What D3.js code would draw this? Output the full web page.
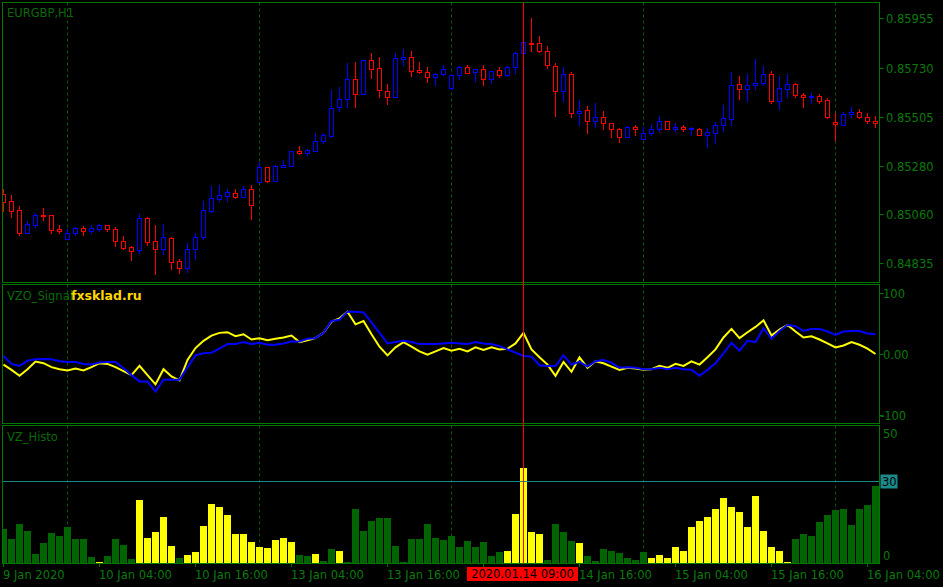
<!DOCTYPE html>
<html><head><meta charset="utf-8">
<script src="https://cdn.jsdelivr.net/npm/d3@7"></script>
<style>html,body{margin:0;padding:0;background:#000;overflow:hidden}</style>
</head><body>
<svg id="c" width="943" height="587"></svg>
<script>
// ---- DATA (EURGBP H1, 110 bars) ----
const open = [0.85152,0.85118,0.85079,0.84975,0.85012,0.85056,0.85054,0.84992,0.84945,0.84972,
0.84997,0.84984,0.84994,0.85009,0.84990,0.84936,0.84908,0.84894,0.85041,0.84936,
0.84902,0.84949,0.84844,0.84815,0.84899,0.84957,0.85076,0.85131,0.85144,0.85158,
0.85140,0.85173,0.85208,0.85274,0.85213,0.85277,0.85282,0.85347,0.85341,0.85350,
0.85393,0.85417,0.85548,0.85585,0.85676,0.85611,0.85763,0.85726,0.85621,0.85597,
0.85771,0.85777,0.85717,0.85708,0.85685,0.85699,0.85635,0.85694,0.85731,0.85710,
0.85722,0.85676,0.85719,0.85694,0.85734,0.85798,0.85842,0.85841,0.85804,0.85736,
0.85621,0.85699,0.85521,0.85534,0.85484,0.85502,0.85475,0.85448,0.85414,0.85457,
0.85402,0.85429,0.85448,0.85484,0.85451,0.85457,0.85448,0.85448,0.85423,0.85432,
0.85466,0.85493,0.85655,0.85630,0.85649,0.85658,0.85701,0.85579,0.85630,0.85655,
0.85603,0.85594,0.85600,0.85582,0.85481,0.85469,0.85518,0.85527,0.85502,0.85487];
const high = [0.85175,0.85147,0.85097,0.85027,0.85064,0.85088,0.85054,0.85009,0.84994,0.85003,
0.85006,0.85009,0.85015,0.85012,0.85000,0.84960,0.84914,0.85061,0.85048,0.85009,
0.85015,0.84957,0.84853,0.84926,0.84972,0.85118,0.85189,0.85192,0.85173,0.85173,
0.85189,0.85192,0.85298,0.85274,0.85283,0.85307,0.85350,0.85371,0.85359,0.85429,
0.85429,0.85627,0.85640,0.85749,0.85755,0.85763,0.85795,0.85777,0.85655,0.85795,
0.85813,0.85804,0.85755,0.85731,0.85704,0.85740,0.85694,0.85737,0.85740,0.85722,
0.85740,0.85716,0.85731,0.85737,0.85801,0.85845,0.85957,0.85874,0.85829,0.85752,
0.85731,0.85710,0.85582,0.85554,0.85566,0.85530,0.85475,0.85454,0.85463,0.85469,
0.85457,0.85466,0.85509,0.85487,0.85475,0.85466,0.85457,0.85454,0.85454,0.85481,
0.85557,0.85710,0.85691,0.85701,0.85768,0.85737,0.85713,0.85691,0.85701,0.85658,
0.85612,0.85612,0.85609,0.85591,0.85521,0.85527,0.85548,0.85539,0.85521,0.85509];
const low = [0.85076,0.85048,0.84965,0.84975,0.85000,0.85033,0.84975,0.84975,0.84945,0.84963,
0.84965,0.84975,0.84981,0.84984,0.84914,0.84902,0.84850,0.84884,0.84919,0.84786,
0.84878,0.84808,0.84792,0.84795,0.84853,0.84948,0.85070,0.85118,0.85118,0.85134,
0.85137,0.85039,0.85207,0.85207,0.85210,0.85277,0.85282,0.85335,0.85332,0.85350,
0.85387,0.85411,0.85530,0.85551,0.85551,0.85611,0.85682,0.85597,0.85563,0.85597,
0.85740,0.85691,0.85704,0.85664,0.85649,0.85698,0.85634,0.85679,0.85704,0.85670,
0.85652,0.85658,0.85685,0.85691,0.85707,0.85798,0.85807,0.85801,0.85728,0.85509,
0.85579,0.85502,0.85466,0.85432,0.85457,0.85451,0.85414,0.85390,0.85414,0.85423,
0.85402,0.85420,0.85438,0.85448,0.85442,0.85442,0.85423,0.85420,0.85365,0.85387,
0.85442,0.85469,0.85585,0.85579,0.85634,0.85649,0.85570,0.85542,0.85597,0.85594,
0.85551,0.85570,0.85570,0.85499,0.85399,0.85466,0.85506,0.85499,0.85478,0.85460];
const close = [0.85117,0.85076,0.84975,0.85013,0.85054,0.85051,0.84989,0.84981,0.84972,0.84995,
0.84984,0.84997,0.85009,0.84990,0.84936,0.84904,0.84893,0.85041,0.84934,0.84902,
0.84954,0.84843,0.84815,0.84899,0.84957,0.85077,0.85132,0.85146,0.85160,0.85140,
0.85173,0.85103,0.85274,0.85213,0.85280,0.85283,0.85347,0.85341,0.85353,0.85393,
0.85420,0.85544,0.85585,0.85676,0.85611,0.85763,0.85722,0.85626,0.85597,0.85772,
0.85777,0.85716,0.85708,0.85685,0.85699,0.85722,0.85694,0.85731,0.85707,0.85722,
0.85676,0.85716,0.85694,0.85734,0.85795,0.85845,0.85839,0.85804,0.85740,0.85621,
0.85699,0.85521,0.85530,0.85484,0.85502,0.85475,0.85448,0.85414,0.85460,0.85448,
0.85429,0.85448,0.85484,0.85451,0.85457,0.85448,0.85454,0.85423,0.85435,0.85466,
0.85498,0.85649,0.85630,0.85649,0.85658,0.85701,0.85579,0.85635,0.85655,0.85603,
0.85594,0.85600,0.85579,0.85506,0.85472,0.85518,0.85527,0.85502,0.85484,0.85475];

const vzo = [-17.4,-26.1,-35.9,-25.0,-12.5,-15.2,-21.7,-25.0,-27.2,-23.9,
-27.2,-21.7,-15.2,-16.3,-21.7,-28.3,-34.8,-19.6,-34.8,-50.0,
-25.0,-37.0,-43.5,-9.8,9.8,21.7,30.4,34.8,35.9,29.3,
32.6,23.9,26.1,22.8,25.0,27.2,30.4,19.6,22.8,26.1,
34.8,53.3,58.7,69.6,48.9,54.3,32.6,12.0,-2.2,10.9,
19.6,12.0,4.3,-1.1,4.3,9.8,5.4,8.7,4.3,10.9,
6.5,10.9,7.6,8.7,17.4,34.8,7.6,-5.4,-17.4,-35.9,
-13.0,-29.3,-5.4,-22.8,-12.0,-15.2,-20.7,-26.1,-22.8,-23.9,
-26.1,-25.0,-19.6,-22.8,-16.3,-19.6,-12.0,-17.4,-5.4,7.6,
27.2,41.3,26.1,35.9,44.6,55.4,30.4,40.2,47.8,37.0,
27.2,29.3,23.9,17.4,10.9,14.1,19.6,15.2,8.7,0.0];
const signal = [-3.3,-16.3,-19.6,-10.9,-8.7,-8.2,-8.7,-12.0,-13.0,-13.0,
-16.3,-17.4,-14.1,-13.0,-13.0,-23.4,-34.8,-45.1,-45.1,-62.0,
-42.4,-42.4,-42.4,-21.7,-2.2,1.1,2.2,8.7,16.3,16.3,
19.6,16.3,18.5,15.2,15.2,17.4,20.7,20.7,25.0,26.1,
34.8,54.3,56.5,69.6,69.6,68.5,52.2,34.8,17.4,19.6,
21.7,19.6,16.3,16.3,16.3,17.4,18.5,17.4,16.3,19.6,
17.4,16.3,13.0,7.6,2.2,-3.3,-4.3,-18.5,-19.6,-19.6,
-2.2,-17.4,-13.0,-20.7,-12.0,-9.8,-14.1,-22.8,-21.7,-22.8,
-25.0,-25.0,-22.8,-25.0,-22.8,-25.0,-26.1,-35.9,-26.1,-15.2,
1.1,18.5,5.4,21.7,19.6,42.4,25.0,38.0,47.8,45.7,
38.0,41.3,41.3,37.0,31.5,37.0,38.0,38.0,33.7,32.6];

const histo = [12.7,9.0,14.6,12.0,3.5,7.5,11.2,10.1,13.5,9.0,
9.0,2.3,0.5,2.7,9.0,6.8,1.6,23.5,9.4,11.6,
17.2,6.4,2.0,3.1,4.2,13.8,22.0,20.9,17.9,10.9,
10.9,7.9,6.0,5.7,8.6,9.4,7.9,3.1,2.7,3.5,
0.9,5.3,4.6,0.2,20.1,12.0,15.7,16.8,16.8,6.4,
0.2,9.0,9.0,14.6,9.4,8.6,10.1,6.0,8.3,6.0,
7.9,2.7,4.2,4.6,18.3,35.3,11.6,10.9,1.2,14.6,
11.6,8.3,7.5,2.7,0.9,5.3,4.6,3.8,2.0,1.2,
4.2,2.0,3.1,2.0,6.0,4.6,13.5,15.7,17.2,20.1,
24.2,20.9,19.0,13.5,24.9,12.0,6.0,4.6,0.5,9.0,
10.9,10.1,15.3,17.9,19.8,20.1,14.2,20.1,21.6,28.6];
const histoKind = ["G","G","G","G","G","G","G","G","G","G",
"G","G","Y","G","G","G","G","Y","Y","Y",
"Y","Y","G","Y","Y","Y","Y","Y","Y","Y",
"Y","Y","Y","Y","Y","Y","Y","G","G","Y",
"G","G","Y","G","G","G","G","G","G","G",
"G","G","G","G","G","G","G","G","G","G",
"G","G","G","Y","Y","Y","Y","Y","G","G",
"G","G","Y","G","G","G","G","G","G","G",
"G","Y","Y","Y","Y","Y","Y","Y","Y","Y",
"Y","Y","Y","Y","Y","Y","Y","Y","Y","G",
"G","G","G","G","G","G","G","G","G","G"];

const priceTicks = [0.85955,0.85730,0.85505,0.85280,0.85060,0.84835];
const oscTicks = [100,0,-100];
const oscTickLabels = ["100","0.00","-100"];
const histTicks = [50,0];
const histLevel = 30;
const timeTickIdx = [0,12,24,36,48,60,72,84,96,108];
const timeTickLabels = ["9 Jan 2020","10 Jan 04:00","10 Jan 16:00","13 Jan 04:00","13 Jan 16:00","14 Jan 04:00","14 Jan 16:00","15 Jan 04:00","15 Jan 16:00","16 Jan 04:00"];
const dayStartIdx = [8,32,56,80,104];
const cursorIdx = 65;
const cursorLabel = "2020.01.14 09:00";

// ---- DRAWING ----
const W=943,H=587;
const svg=d3.select('#c');
svg.append('rect').attr('width',W).attr('height',H).attr('fill','#000');
const L=2.5,R=879.5;
const axisCol='#007800', textCol='#0b7a0b', gridCol='#0c5a0c';
const font="'DejaVu Sans', Verdana, sans-serif";
const panels=[{top:2.5,bottom:282.5},{top:284.5,bottom:423.5},{top:425.5,bottom:563.5}];
const n=open.length;
const x=d3.scaleLinear().domain([0,n-1]).range([3.5,3.5+8*(n-1)]);
const yP=d3.scaleLinear().domain([0.84835,0.85955]).range([263.3,18.3]);
const yO=d3.scaleLinear().domain([-100,100]).range([414.7,293.3]);
const yH=d3.scaleLinear().domain([0,50]).range([563,428]);
const snap=v=>Math.round(v)+0.5;

const defs=svg.append('defs');
panels.forEach((p,k)=>{
  defs.append('clipPath').attr('id','clip'+k).append('rect')
    .attr('x',L+0.5).attr('y',p.top+0.5).attr('width',R-L-1).attr('height',p.bottom-p.top-1);
});

// grid
panels.forEach(p=>{
  svg.append('g').selectAll('line').data(dayStartIdx).join('line')
    .attr('x1',d=>x(d)).attr('x2',d=>x(d)).attr('y1',p.top).attr('y2',p.bottom)
    .attr('stroke',gridCol).attr('stroke-dasharray','3,3').attr('stroke-width',1);
});

// candles
const gC=svg.append('g').attr('clip-path','url(#clip0)');
d3.range(n).forEach(i=>{
  const col = close[i]>=open[i] ? '#0000ff' : '#ff0000';
  const cx=x(i);
  gC.append('line').attr('x1',cx).attr('x2',cx)
    .attr('y1',snap(yP(high[i]))-0.5).attr('y2',snap(yP(low[i]))+0.5)
    .attr('stroke',col).attr('stroke-width',1);
  const t=snap(yP(Math.max(open[i],close[i]))), b=snap(yP(Math.min(open[i],close[i])));
  if(b-t<1){
    gC.append('line').attr('x1',cx-2.5).attr('x2',cx+2.5).attr('y1',t).attr('y2',t)
      .attr('stroke',col).attr('stroke-width',1);
  } else {
    gC.append('rect').attr('x',cx-2).attr('y',t).attr('width',4).attr('height',b-t)
      .attr('fill','#000').attr('stroke',col).attr('stroke-width',1);
  }
});

// oscillator lines
const gO=svg.append('g').attr('clip-path','url(#clip1)');
const line=d3.line().x((d,i)=>x(i)).y(d=>yO(d));
gO.append('path').datum(vzo).attr('d',line).attr('fill','none').attr('stroke','#ffff00').attr('stroke-width',2);
gO.append('path').datum(signal).attr('d',line).attr('fill','none').attr('stroke','#0000ff').attr('stroke-width',2);

// histogram
const gH=svg.append('g').attr('clip-path','url(#clip2)');
gH.selectAll('rect').data(histo).join('rect')
  .attr('x',(d,i)=>x(i)-3.5).attr('width',7)
  .attr('y',d=>Math.round(yH(d))).attr('height',d=>Math.max(0,563-Math.round(yH(d))))
  .attr('fill',(d,i)=>histoKind[i]==='Y'?'#ffff00':'#006400');
const lvY=Math.round(yH(histLevel))-0.5;
svg.append('line').attr('x1',L).attr('x2',R).attr('y1',lvY).attr('y2',lvY).attr('stroke','#1a8a8a').attr('stroke-width',1);

// panel borders
panels.forEach(p=>{
  svg.append('rect').attr('x',L).attr('y',p.top).attr('width',R-L).attr('height',p.bottom-p.top)
    .attr('fill','none').attr('stroke',axisCol).attr('stroke-width',1);
});

// right axes
const ax=svg.append('g').attr('font-family',font).attr('font-size','11.5px').attr('fill',textCol);
priceTicks.forEach(v=>{
  const y=snap(yP(v));
  ax.append('line').attr('x1',R).attr('x2',R+4).attr('y1',y).attr('y2',y).attr('stroke',axisCol);
  ax.append('text').attr('x',886).attr('y',y).attr('dy','0.36em').text(v.toFixed(5));
});
oscTicks.forEach((v,k)=>{
  const y=snap(yO(v));
  ax.append('line').attr('x1',R).attr('x2',R+4).attr('y1',y).attr('y2',y).attr('stroke',axisCol);
  ax.append('text').attr('x',v<0?880:883).attr('y',y).attr('dy','0.36em').text(oscTickLabels[k]);
});
histTicks.forEach(v=>{
  const y=Math.min(Math.max(yH(v),434),556);
  ax.append('text').attr('x',883).attr('y',y).attr('dy','0.36em').text(String(v));
});
// level label
svg.append('rect').attr('x',880.5).attr('y',lvY-7).attr('width',17).attr('height',14).attr('fill','#1a8a8a');
svg.append('text').attr('x',882).attr('y',lvY).attr('dy','0.36em').attr('font-family',font)
  .attr('font-size','11.5px').attr('fill','#000').text(String(histLevel));

// cursor box extent (labels hidden under it in the reference are not drawn)
const cx0=x(cursorIdx);
const boxX0=467, boxX1=578;

// time axis
const tx=svg.append('g').attr('font-family',font).attr('font-size','11.5px').attr('fill',textCol);
timeTickIdx.forEach((d,k)=>{
  tx.append('line').attr('x1',x(d)).attr('x2',x(d)).attr('y1',563.5).attr('y2',567).attr('stroke',axisCol);
  const tx0=x(d)-0.5;
  if(tx0>=boxX0-2 && tx0<=boxX1) return; // covered by cursor date box
  tx.append('text').attr('x',tx0).attr('y',578.5).text(timeTickLabels[k]);
});

// cursor line + label
svg.append('line').attr('x1',cx0).attr('x2',cx0).attr('y1',2.5).attr('y2',563.5).attr('stroke','#ff0000').attr('stroke-width',1);
svg.append('rect').attr('x',boxX0).attr('y',567).attr('width',boxX1-boxX0).attr('height',14).attr('fill','#ff0000');
svg.append('text').attr('x',522.5).attr('y',578.3).attr('text-anchor','middle').attr('font-family',font)
  .attr('font-size','11.5px').attr('fill','#000').text(cursorLabel);

// panel titles
const tt=svg.append('g').attr('font-family',font).attr('font-size','11.5px').attr('fill','#0a6a0a');
tt.append('text').attr('x',7).attr('y',17).text('EURGBP,H1');
tt.append('text').attr('x',7).attr('y',299.5).text('VZO_Signal');
tt.append('text').attr('x',7).attr('y',441).text('VZ_Histo');
svg.append('text').attr('x',71).attr('y',300).attr('font-family',font).attr('font-weight','bold')
  .attr('font-size','12.5px').attr('fill','#ffd700').text('fxsklad.ru');
</script>
</body></html>
